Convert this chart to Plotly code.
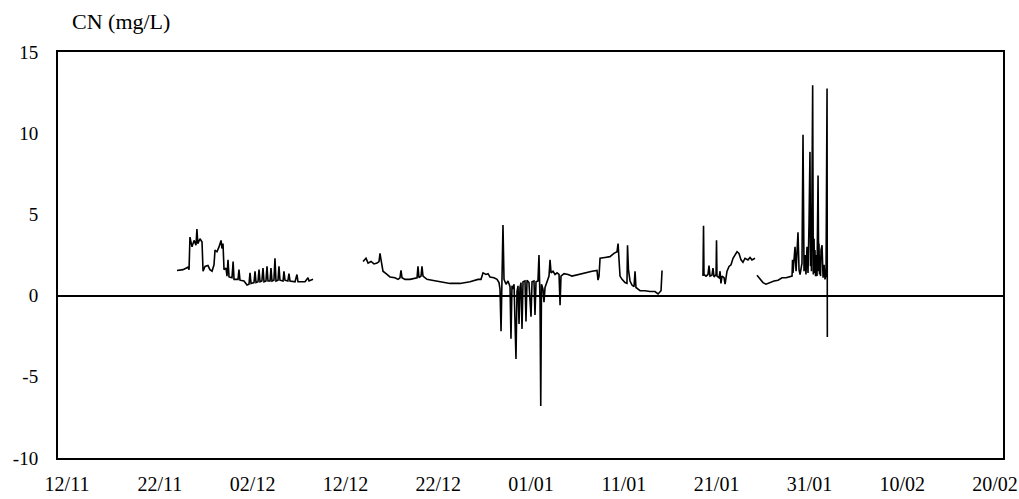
import pandas as pd
import plotly.graph_objects as go

START = pd.Timestamp("1995-11-12")

# days after 12/11 and CN concentration (mg/L)
seg1_days = [11.85, 12.5, 13.04, 13.15, 13.25, 13.47, 13.69, 13.9, 14.0, 14.1, 14.33, 14.55, 14.66, 14.87,
             15.19, 15.4, 15.63, 15.84, 15.95, 16.16, 16.38, 16.6, 16.7, 16.81, 16.92, 17.13, 17.24, 17.35,
             17.46, 17.78, 17.9, 18.0, 18.43, 18.53, 18.64, 19.07, 19.4, 19.61, 19.72, 19.83, 20.15, 20.26,
             20.37, 20.58, 20.69, 20.8, 21.0, 21.12, 21.23, 21.44, 21.55, 21.66, 21.88, 21.98, 22.09, 22.3,
             22.41, 22.52, 22.74, 22.84, 22.95, 23.28, 23.38, 23.49, 23.8, 23.92, 24.03, 24.57, 24.78, 24.89,
             25.65, 25.97, 26.08, 26.51]
seg1_vals = [1.55, 1.6, 1.75, 1.6, 3.6, 3.0, 3.4, 3.1, 4.1, 3.2, 3.5, 3.3, 1.5, 1.8,
             1.85, 1.6, 1.5, 1.9, 2.8, 2.7, 3.0, 3.4, 2.9, 3.2, 1.6, 1.7, 1.2, 2.2,
             1.15, 1.1, 2.1, 1.0, 1.0, 1.6, 0.95, 0.9, 0.65, 0.7, 1.4, 0.75, 0.8, 1.5,
             0.8, 0.85, 1.6, 0.85, 0.9, 1.7, 0.85, 0.9, 1.8, 0.9, 0.9, 1.7, 0.9, 0.95,
             2.3, 0.9, 0.95, 1.8, 0.95, 0.9, 1.5, 0.95, 0.9, 1.35, 0.9, 0.85, 1.3, 0.85,
             0.85, 1.1, 0.9, 1.0]

seg2_days = [31.9, 32.22, 32.44, 32.76, 33.08, 33.41, 33.62, 33.73, 33.84, 34.05, 34.38, 34.81, 35.34, 35.67,
             35.88, 35.99, 36.1, 36.42, 36.96, 37.5, 37.72, 37.82, 37.93, 38.15, 38.25, 38.36, 38.79, 39.33,
             40.19, 41.27, 42.35, 43.43, 44.29, 44.61, 44.83, 45.15, 45.37, 45.58, 46.01, 46.34, 46.55, 46.66,
             46.77, 46.88, 46.98, 47.09, 47.31, 47.52, 47.74, 47.84, 47.95, 48.06, 48.17, 48.38, 48.49, 48.6,
             48.71, 48.81, 48.92, 49.03, 49.14, 49.35, 49.46, 49.57, 49.78, 50.0, 50.11, 50.32, 50.43, 50.54,
             50.75, 50.86, 50.97, 51.05, 51.13, 51.29, 51.4, 51.51, 51.72, 51.94, 52.05, 52.16, 52.37, 52.59,
             52.8, 53.02, 53.13, 53.23, 53.56, 53.99, 54.42, 55.06, 55.82, 56.57, 57.11, 57.22, 57.33, 57.44,
             57.97, 58.51, 58.94, 59.27, 59.38, 59.48, 59.59, 59.81, 60.13, 60.34, 60.4, 60.5, 60.67, 60.88,
             61.1, 61.21, 61.31, 61.75, 62.28, 62.82, 63.36, 63.69, 64.01, 64.12]
seg2_vals = [2.1, 2.3, 2.0, 2.1, 1.95, 2.0, 2.1, 2.6, 2.2, 1.5, 1.35, 1.15, 1.1, 1.0,
             1.1, 1.55, 1.1, 1.0, 1.0, 1.05, 1.1, 1.8, 1.1, 1.2, 1.8, 1.2, 1.0, 0.95,
             0.85, 0.75, 0.75, 0.85, 1.0, 1.0, 1.4, 1.3, 1.35, 1.15, 1.1, 1.0, 0.8, 0.4,
             -2.2, 0.8, 4.35, 1.0, 0.7, 0.9, 0.55, -2.65, 0.6, 0.4, 0.7, -3.9, 0.25, 0.6,
             -1.75, 0.5, 0.8, -2.05, 0.85, 0.9, -1.6, 0.95, 0.8, -1.3, 0.85, 0.9, -1.2, 0.85,
             0.9, 2.5, -0.3, -6.8, 0.7, 0.4, -0.4, 0.5, 0.9, 1.2, 2.2, 1.4, 1.5, 1.3,
             1.4, 1.3, -0.6, 1.2, 1.35, 1.3, 1.2, 1.3, 1.4, 1.5, 1.55, 0.95, 1.2, 2.3,
             2.35, 2.4, 2.6, 2.7, 3.2, 1.8, 1.2, 1.0, 0.8, 0.75, 3.1, 1.6, 0.9, 0.65,
             0.55, 1.5, 0.5, 0.3, 0.3, 0.25, 0.25, 0.1, 0.3, 1.55]

seg3_days = [68.53, 68.59, 68.64, 68.86, 69.07, 69.18, 69.29, 69.5, 69.61, 69.72, 69.94, 69.99, 70.04, 70.26,
             70.37, 70.47, 70.58, 70.8, 70.91, 71.01, 71.12, 71.34, 71.55, 71.77, 71.98, 72.2, 72.41, 72.63,
             72.84, 73.06, 73.38, 73.6, 73.81, 74.14]
seg3_vals = [1.2, 4.3, 1.3, 1.2, 1.3, 1.85, 1.2, 1.25, 1.7, 1.15, 1.3, 3.4, 1.2, 1.1,
             1.5, 0.75, 1.2, 1.1, 0.7, 1.2, 1.5, 1.8, 1.9, 2.3, 2.5, 2.7, 2.6, 2.2,
             2.05, 2.3, 2.2, 2.35, 2.2, 2.3]

seg4_days = [74.35, 74.68, 75.0, 75.32, 75.75, 76.19, 76.62, 77.05, 77.48, 77.91, 78.13, 78.18, 78.23, 78.45,
             78.56, 78.77, 78.88, 78.99, 79.2, 79.31, 79.42, 79.53, 79.63, 79.74, 79.85, 79.96, 80.06, 80.12,
             80.17, 80.22, 80.28, 80.35, 80.42, 80.5, 80.55, 80.6, 80.66, 80.71, 80.82, 80.93, 81.0, 81.03,
             81.09, 81.14, 81.2, 81.25, 81.36, 81.47, 81.58, 81.68, 81.79, 81.9, 81.93]
seg4_vals = [1.25, 1.0, 0.8, 0.7, 0.8, 0.9, 0.95, 1.1, 1.1, 1.15, 1.2, 2.2, 1.4, 3.0,
             1.5, 3.9, 1.6, 1.3, 2.0, 9.9, 1.5, 2.5, 1.3, 3.0, 1.4, 4.5, 8.85, 1.8,
             3.6, 1.5, 5.0, 12.95, 1.3, 3.5, 1.4, 2.8, 1.2, 2.5, 1.2, 7.4, 1.5, 3.2,
             1.3, 2.4, 1.2, 2.8, 3.1, 1.1, 1.9, 1.0, 1.3, 12.75, -2.55]

tick_days = [0, 10, 20, 30, 40, 50, 60, 70, 80, 90, 100]
y_ticks = [-10, -5, 0, 5, 10, 15]
y_tick_text = ["-10", "-5", "0", "5", "10", "15"]


def to_dates(days):
    return [START + pd.Timedelta(days=d) for d in days]


fig = go.Figure()
for d, v in [(seg1_days, seg1_vals), (seg2_days, seg2_vals), (seg3_days, seg3_vals), (seg4_days, seg4_vals)]:
    fig.add_trace(go.Scatter(x=to_dates(d), y=v, mode="lines",
                             line=dict(color="black", width=1.6), showlegend=False, hoverinfo="skip"))

fam = "Liberation Serif, Times New Roman, serif"
xfont = dict(family=fam, size=20, color="black")
yfont = dict(family=fam, size=19, color="black")
tfont = dict(family=fam, size=22, color="black")

fig.update_layout(
    width=1019, height=499,
    margin=dict(l=58, r=16, t=52, b=41, autoexpand=False),
    paper_bgcolor="white", plot_bgcolor="white",
    font=xfont,
    showlegend=False,
    xaxis=dict(
        type="date", automargin=False,
        range=[START + pd.Timedelta(days=-0.97), START + pd.Timedelta(days=100.86)],
        tickvals=to_dates(tick_days), tickformat="%d/%m",
        showgrid=False, zeroline=False,
        showline=True, mirror=True, linecolor="black", linewidth=2,
        ticks="", ticklabelstandoff=7, tickfont=xfont,
    ),
    yaxis=dict(
        automargin=False,
        range=[-10, 15], tickvals=y_ticks, ticktext=y_tick_text,
        showgrid=False, zeroline=True, zerolinecolor="black", zerolinewidth=2,
        showline=True, mirror=True, linecolor="black", linewidth=2,
        ticks="", ticklabelstandoff=14, tickfont=yfont,
    ),
    annotations=[dict(text="CN (mg/L)", xref="paper", yref="paper",
                      x=(70 - 58) / 945, y=1 + (52 - 22) / 406,
                      xanchor="left", yanchor="middle", showarrow=False, font=tfont)],
)

fig.write_html("out.html")
